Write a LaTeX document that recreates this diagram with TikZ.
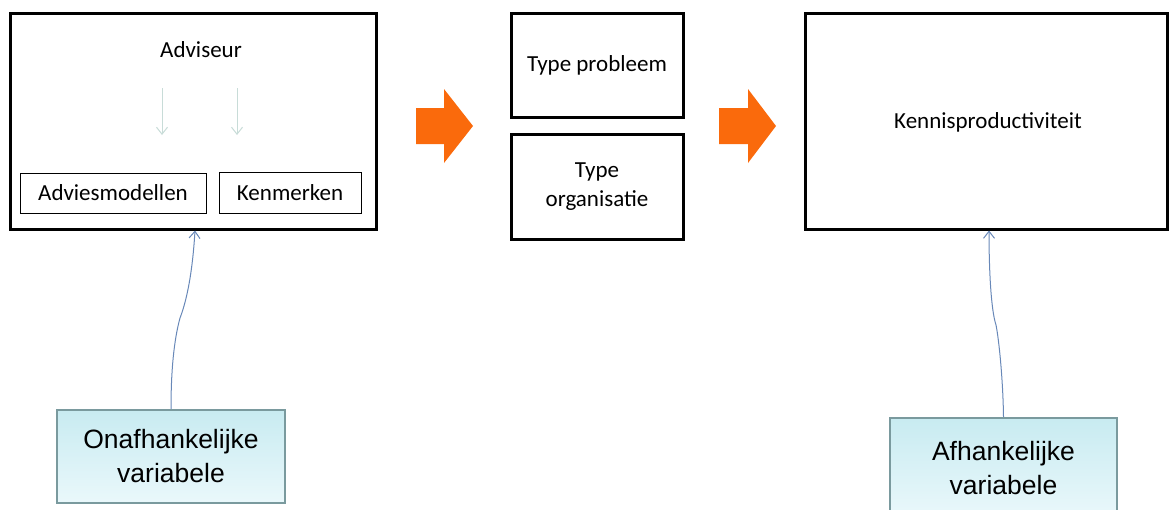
\documentclass[tikz,border=0pt]{standalone}
\usepackage{fontspec}
\setmainfont{Carlito}
\newfontfamily\arialfont{Liberation Sans}
\usetikzlibrary{arrows.meta}
\definecolor{flow}{RGB}{250,106,12}
\definecolor{varedge}{RGB}{122,154,158}
\definecolor{vartop}{RGB}{200,235,241}
\definecolor{varbot}{RGB}{234,248,251}
\definecolor{link}{RGB}{104,136,184}
\definecolor{faint}{RGB}{200,220,216}
\tikzset{
  bigbox/.style={draw=black, line width=3pt, fill=white, inner sep=0pt},
  subbox/.style={draw=black, line width=1pt, fill=white, inner sep=0pt},
  label/.style={font=\fontsize{23}{29}\selectfont, align=center, inner sep=0pt},
  varbox/.style={draw=varedge, line width=2.2pt, top color=vartop, bottom color=varbot,
    inner sep=0pt, align=center, font=\arialfont\fontsize{26.5}{34}\selectfont},
  link/.style={draw=link, line width=1pt, -{Straight Barb[length=7pt,width=11pt,line width=1pt]}},
  faintarrow/.style={draw=faint, line width=1pt, -{Straight Barb[length=7pt,width=11pt,line width=1pt]}},
  flowarrow/.style={fill=flow, draw=none}
}
\begin{document}
\begin{tikzpicture}[x=1pt,y=-1pt]
\useasboundingbox (0,0) rectangle (1169,509);
\begin{scope}
\clip (0,0) rectangle (1169,509);

% left block: the advisor and its two parts
\node[bigbox, minimum width=366pt, minimum height=216pt] (adv) at (193,121) {};
\node[label] (advt) at (201,50) {Adviseur};
\node[subbox, minimum width=186pt, minimum height=40pt, label] (mod) at (113,193) {Adviesmodellen};
\node[subbox, minimum width=142pt, minimum height=41pt, label] (ken) at (290,192.5) {Kenmerken};
\coordinate (fa1) at (162,88);
\coordinate (fa1e) at (162,135);
\coordinate (fa2) at (237,88);
\coordinate (fa2e) at (237,135);
\draw[faintarrow] (fa1) -- (fa1e);
\draw[faintarrow] (fa2) -- (fa2e);

% middle blocks
\node[bigbox, minimum width=172pt, minimum height=104pt, label] (prob) at (597,65) {Type probleem};
\node[bigbox, minimum width=172pt, minimum height=105pt, label] (org) at (597,186.5) {Type\\organisatie};

% right block
\node[bigbox, minimum width=362pt, minimum height=216pt] (kp) at (986,121) {};
\node[label] (kpt) at (988,122) {Kennisproductiviteit};

% orange flow arrows
\fill[flowarrow] (416,108) -- (444,108) -- (444,89) -- (473,126) -- (444,163) -- (444,144) -- (416,144) -- cycle;
\fill[flowarrow] (719,108) -- (748,108) -- (748,89) -- (776,126) -- (748,163) -- (748,144) -- (719,144) -- cycle;

% variable labels
\node[varbox, minimum width=228pt, minimum height=93pt] (onaf) at (171,456.5) {Onafhankelijke\\variabele};
\node[varbox, minimum width=227pt, minimum height=100pt] (afh) at (1003.5,468) {Afhankelijke\\variabele};

% connectors from the variable labels
\draw[link] (onaf.north) .. controls (171,370) and (174,340) .. (180,318)
  .. controls (185,305) and (192,280) .. (adv.south -| 195,0);
\draw[link] (afh.north) .. controls (1003,380) and (999,340) .. (996,325)
  .. controls (991,310) and (989,270) .. (kp.south -| 989,0);
\end{scope}
\end{tikzpicture}
\end{document}
